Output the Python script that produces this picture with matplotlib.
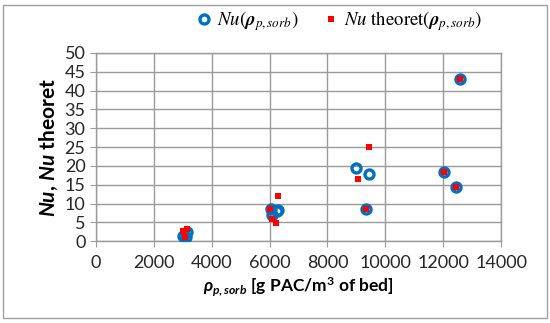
import matplotlib
matplotlib.use("Agg")
import matplotlib.pyplot as plt
from matplotlib.patches import Rectangle

# measured Nu vs sorbent density
rho_meas = [3000, 3130, 3100, 6050, 6270, 6080, 6300, 9000, 9450, 9330, 12040, 12440, 12570]
nu_meas = [1.5, 2.5, 1.2, 8.6, 8.0, 7.0, 8.3, 19.4, 17.8, 8.7, 18.4, 14.5, 43.0]

# theoretical Nu
rho_theo = [3000, 3130, 3080, 6020, 6100, 6230, 6290, 9040, 9450, 9330, 12040, 12440, 12570]
nu_theo = [2.6, 3.2, 1.2, 8.7, 5.9, 4.8, 12.0, 16.5, 25.0, 8.7, 18.4, 14.5, 43.0]

x_ticks = [0, 2000, 4000, 6000, 8000, 10000, 12000, 14000]
y_ticks = [0, 5, 10, 15, 20, 25, 30, 35, 40, 45, 50]

plt.rcParams["mathtext.fontset"] = "custom"
plt.rcParams["mathtext.it"] = "Lato:bold:italic"
plt.rcParams["mathtext.rm"] = "Lato:bold"
plt.rcParams["mathtext.bf"] = "Lato:bold"

BLUE = "#0070C0"
RED = "#FF0000"
GRID = "#9a9a9a"

fig = plt.figure(figsize=(5.5, 3.23), dpi=100)
ax = fig.add_axes([0.1745, 0.253, 0.7365, 0.583])

ax.plot(rho_meas, nu_meas, "o", ms=6.5, mfc="none", mec=BLUE, mew=2.4,
        label=r"$Nu(\boldsymbol{\rho}_{p,sorb})$", zorder=3)
ax.plot(rho_theo, nu_theo, "s", ms=4, mfc=RED, mec=RED, mew=0,
        label=r"$Nu\ \mathrm{theoret}(\boldsymbol{\rho}_{p,sorb})$", zorder=4)

ax.set_xlim(0, 14000)
ax.set_ylim(0, 50)
ax.set_xticks(x_ticks)
ax.set_yticks(y_ticks)
ax.grid(True, color=GRID, lw=1)
ax.set_axisbelow(True)
for s in ax.spines.values():
    s.set_color(GRID)
    s.set_linewidth(1)
ax.tick_params(direction="out", length=4, color=GRID, labelsize=13,
               labelcolor="#262626")
ax.tick_params(axis="x", pad=6)
for lab in ax.get_xticklabels() + ax.get_yticklabels():
    lab.set_family("Lato")

ax.set_xlabel(r"$\rho_{p,sorb}$ [g PAC/m$^3$ of bed]", fontsize=12.5,
              fontweight="bold", family="Lato", labelpad=3)
ax.set_ylabel(r"$Nu$, $Nu$ theoret", fontsize=15, fontweight="bold",
              family="Lato", labelpad=3)

leg = fig.legend(loc="center", bbox_to_anchor=(0.615, 0.935), ncol=2,
                 frameon=False, handletextpad=0.2, columnspacing=1.2,
                 handlelength=1.0, prop={"family": "Liberation Serif", "size": 13.5})
for t in leg.get_texts():
    t.set_math_fontfamily("stix")

fig.patches.append(Rectangle((0.006, 0.015), 0.988, 0.97, transform=fig.transFigure,
                             fill=False, ec="#a0a0a0", lw=1))

fig.savefig("out.png", dpi=100)
